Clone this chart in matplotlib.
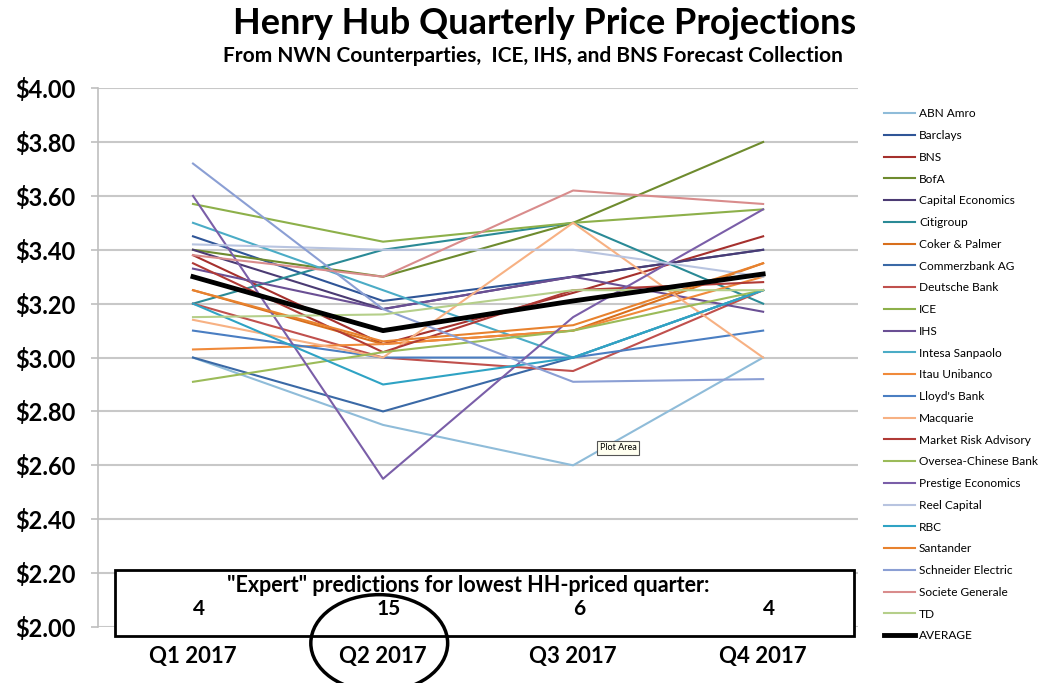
import matplotlib
matplotlib.use("Agg")
import matplotlib.pyplot as plt
from matplotlib.patches import Ellipse, Rectangle

plt.rcParams['font.family'] = ['Lato', 'DejaVu Sans']

quarters = ['Q1 2017', 'Q2 2017', 'Q3 2017', 'Q4 2017']

sources = ['ABN Amro', 'Barclays', 'BNS', 'BofA', 'Capital Economics', 'Citigroup',
           'Coker & Palmer', 'Commerzbank AG', 'Deutsche Bank', 'ICE', 'IHS',
           'Intesa Sanpaolo', 'Itau Unibanco', "Lloyd's Bank", 'Macquarie',
           'Market Risk Advisory', 'Oversea-Chinese Bank', 'Prestige Economics',
           'Reel Capital', 'RBC', 'Santander', 'Schneider Electric',
           'Societe Generale', 'TD']

prices = [
    [3.00, 2.75, 2.60, 3.00],  # ABN Amro
    [3.45, 3.21, 3.30, 3.40],  # Barclays
    [3.38, 3.05, 3.24, 3.45],  # BNS
    [3.40, 3.30, 3.50, 3.80],  # BofA
    [3.40, 3.18, 3.30, 3.40],  # Capital Economics
    [3.20, 3.40, 3.50, 3.20],  # Citigroup
    [3.25, 3.05, 3.10, 3.35],  # Coker & Palmer
    [3.00, 2.80, 3.00, 3.25],  # Commerzbank AG
    [3.20, 3.00, 2.95, 3.25],  # Deutsche Bank
    [3.57, 3.43, 3.50, 3.55],  # ICE
    [3.33, 3.18, 3.30, 3.17],  # IHS
    [3.50, 3.25, 3.00, 3.25],  # Intesa Sanpaolo
    [3.03, 3.05, 3.10, 3.30],  # Itau Unibanco
    [3.10, 3.00, 3.00, 3.10],  # Lloyd's Bank
    [3.14, 3.00, 3.50, 3.00],  # Macquarie
    [3.35, 3.02, 3.25, 3.28],  # Market Risk Advisory
    [2.91, 3.02, 3.10, 3.25],  # Oversea-Chinese Bank
    [3.60, 2.55, 3.15, 3.55],  # Prestige Economics
    [3.42, 3.40, 3.40, 3.30],  # Reel Capital
    [3.20, 2.90, 3.00, 3.25],  # RBC
    [3.25, 3.06, 3.12, 3.35],  # Santander
    [3.72, 3.18, 2.91, 2.92],  # Schneider Electric
    [3.38, 3.30, 3.62, 3.57],  # Societe Generale
    [3.15, 3.16, 3.25, 3.25],  # TD
]

average = [3.30, 3.10, 3.21, 3.31]

lowest_counts = [4, 15, 6, 4]

colors = ['#8fbcd9', '#2f5597', '#a5302d', '#6e8b2e', '#4b3b73', '#2a8a96',
          '#d86f1c', '#3a69a6', '#c0504d', '#8db04a', '#6a4f94', '#4bacc6',
          '#f08a3a', '#4a7ec2', '#f7b183', '#b03a36', '#9bbb59', '#7a5ea8',
          '#b8c4e0', '#2fa3c4', '#e8822e', '#8b9fd4', '#d98c8c', '#b5cf8a']

fig = plt.figure(figsize=(10.5, 6.83), dpi=100)
ax = fig.add_axes([0.0933, 0.082, 0.724, 0.789])

x = list(range(len(quarters)))
for name, vals, c in zip(sources, prices, colors):
    ax.plot(x, vals, color=c, lw=1.5, label=name)
ax.plot(x, average, color='black', lw=3.5, label='AVERAGE')

ax.set_xlim(-0.5, 3.5)
ax.set_ylim(2.0, 4.0)
ax.set_yticks([2.0 + 0.2 * i for i in range(11)])
ax.set_yticklabels(['${:.2f}'.format(2.0 + 0.2 * i) for i in range(11)],
                   fontsize=17, fontweight='bold')
ax.set_xticks(x)
ax.set_xticklabels(quarters, fontsize=16, fontweight='bold')
ax.tick_params(axis='x', length=0, pad=14)
ax.tick_params(axis='y', length=5, color='#bfbfbf', width=1.2, pad=11)
ax.grid(axis='y', color='#c8c8c8', lw=1.5)
ax.set_axisbelow(True)
for s in ['top', 'right', 'bottom']:
    ax.spines[s].set_visible(False)
ax.spines['left'].set_color('#bfbfbf')
ax.spines['left'].set_linewidth(1.2)

# box with lowest-quarter votes
box = Rectangle((-0.41, 1.965), 3.89, 0.245, transform=ax.transData,
                fc='white', ec='black', lw=2, clip_on=False, zorder=5)
ax.add_patch(box)
ax.text(1.45, 2.155, '"Expert" predictions for lowest HH-priced quarter:',
        ha='center', va='center', fontsize=15.5, fontweight='bold', zorder=6)
for xi, n in zip(x, lowest_counts):
    ax.text(xi + 0.03, 2.065, str(n), ha='center', va='center',
            fontsize=15, fontweight='bold', zorder=6)
circ = Ellipse((0.98, 1.94), 0.72, 0.36, fill=False, ec='black', lw=2.5,
               transform=ax.transData, clip_on=False, zorder=6)
ax.add_patch(circ)

ax.text(2.14, 2.665, 'Plot Area', fontsize=6.5, ha='left', va='center',
        bbox=dict(boxstyle='square,pad=0.3', fc='#fffff0', ec='#555555', lw=0.8))

fig.text(0.519, 0.965, 'Henry Hub Quarterly Price Projections', ha='center',
         va='center', fontsize=26, fontweight='bold')
fig.text(0.508, 0.918, 'From NWN Counterparties,  ICE, IHS, and BNS Forecast Collection',
         ha='center', va='center', fontsize=15, fontweight='bold')

fig.legend(loc='upper left', bbox_to_anchor=(0.832, 0.857), frameon=False,
           fontsize=8.6, labelspacing=0.9, handlelength=2.6, handletextpad=0.3)

fig.savefig('out.png', dpi=100)
